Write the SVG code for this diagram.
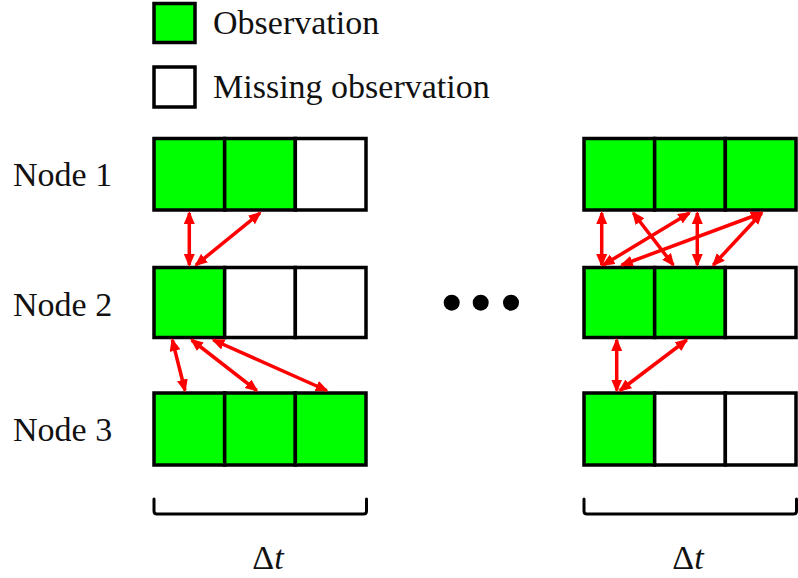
<svg xmlns="http://www.w3.org/2000/svg" width="798" height="578" viewBox="0 0 798 578">
<style>
.obs{fill:#00ff00;stroke:#000;stroke-width:3.5}
.mis{fill:#fff;stroke:#000;stroke-width:3.5}
.lbl{font-family:"Liberation Serif","DejaVu Serif",serif;font-size:34px;fill:#111}
.arr{stroke:#ff0000;stroke-width:3.5;fill:none;marker-start:url(#ah);marker-end:url(#ah)}
.brk{stroke:#000;stroke-width:3;fill:none;stroke-linecap:round;stroke-linejoin:round}
</style>
<defs>
<marker id="ah" markerUnits="userSpaceOnUse" markerWidth="14" markerHeight="12" refX="11" refY="5.5" orient="auto-start-reverse">
<path d="M0,0 L13,5.5 L0,11 z" fill="#ff0000"/>
</marker>
</defs>
<rect width="798" height="578" fill="#fff"/>

<g id="legend-observation">
<rect class="obs" x="154" y="3.5" width="41" height="39"/>
<text class="lbl" x="213" y="34">Observation</text>
</g>
<g id="legend-missing">
<rect class="mis" x="154" y="67" width="41" height="40"/>
<text class="lbl" x="213" y="98">Missing observation</text>
</g>

<g id="label-node1"><text class="lbl" x="13" y="186">Node 1</text></g>
<g id="label-node2"><text class="lbl" x="13" y="316">Node 2</text></g>
<g id="label-node3"><text class="lbl" x="13" y="441">Node 3</text></g>

<g id="node1-window1">
<rect class="obs" x="154" y="138.5" width="70.67" height="71.5"/>
<rect class="obs" x="224.67" y="138.5" width="70.67" height="71.5"/>
<rect class="mis" x="295.33" y="138.5" width="70.67" height="71.5"/>
</g>
<g id="node2-window1">
<rect class="obs" x="154" y="267.5" width="70.67" height="70"/>
<rect class="mis" x="224.67" y="267.5" width="70.67" height="70"/>
<rect class="mis" x="295.33" y="267.5" width="70.67" height="70"/>
</g>
<g id="node3-window1">
<rect class="obs" x="154" y="393" width="70.67" height="72"/>
<rect class="obs" x="224.67" y="393" width="70.67" height="72"/>
<rect class="obs" x="295.33" y="393" width="70.67" height="72"/>
</g>

<g id="node1-window2">
<rect class="obs" x="584" y="138.5" width="70.67" height="71.5"/>
<rect class="obs" x="654.67" y="138.5" width="70.67" height="71.5"/>
<rect class="obs" x="725.33" y="138.5" width="70.67" height="71.5"/>
</g>
<g id="node2-window2">
<rect class="obs" x="584" y="267.5" width="70.67" height="70"/>
<rect class="obs" x="654.67" y="267.5" width="70.67" height="70"/>
<rect class="mis" x="725.33" y="267.5" width="70.67" height="70"/>
</g>
<g id="node3-window2">
<rect class="obs" x="584" y="393" width="70.67" height="72"/>
<rect class="mis" x="654.67" y="393" width="70.67" height="72"/>
<rect class="mis" x="725.33" y="393" width="70.67" height="72"/>
</g>

<g id="ellipsis">
<circle cx="451.7" cy="302.7" r="8"/>
<circle cx="480.7" cy="302.7" r="8"/>
<circle cx="511" cy="302.7" r="8"/>
</g>

<g id="brackets">
<path class="brk" d="M154,499 L154,511 Q154,514 157,514 L363.5,514 Q366.5,514 366.5,511 L366.5,499"/>
<path class="brk" d="M584,499 L584,511 Q584,514 587,514 L793.5,514 Q796.5,514 796.5,511 L796.5,499"/>
</g>
<g id="label-dt1"><text class="lbl" x="268" y="569" text-anchor="middle">Δ<tspan font-style="italic">t</tspan></text></g>
<g id="label-dt2"><text class="lbl" x="688" y="569" text-anchor="middle">Δ<tspan font-style="italic">t</tspan></text></g>

<g id="connectors">
<line class="arr" x1="189.3" y1="213" x2="189.3" y2="265"/>
<line class="arr" x1="260" y1="213" x2="196" y2="265"/>
<line class="arr" x1="172.3" y1="340" x2="185" y2="390.5"/>
<line class="arr" x1="191.7" y1="340" x2="256.7" y2="390.5"/>
<line class="arr" x1="213.3" y1="340" x2="326.7" y2="390.5"/>
<line class="arr" x1="601.7" y1="213" x2="601.7" y2="265"/>
<line class="arr" x1="633.3" y1="213" x2="673.3" y2="265"/>
<line class="arr" x1="689.3" y1="213" x2="603.3" y2="265"/>
<line class="arr" x1="697.3" y1="213" x2="697.3" y2="265"/>
<line class="arr" x1="761.7" y1="213" x2="621.7" y2="265"/>
<line class="arr" x1="761.7" y1="213" x2="713.3" y2="265"/>
<line class="arr" x1="616.7" y1="340" x2="616.7" y2="390.5"/>
<line class="arr" x1="686.7" y1="340" x2="620" y2="390.5"/>
</g>
</svg>
